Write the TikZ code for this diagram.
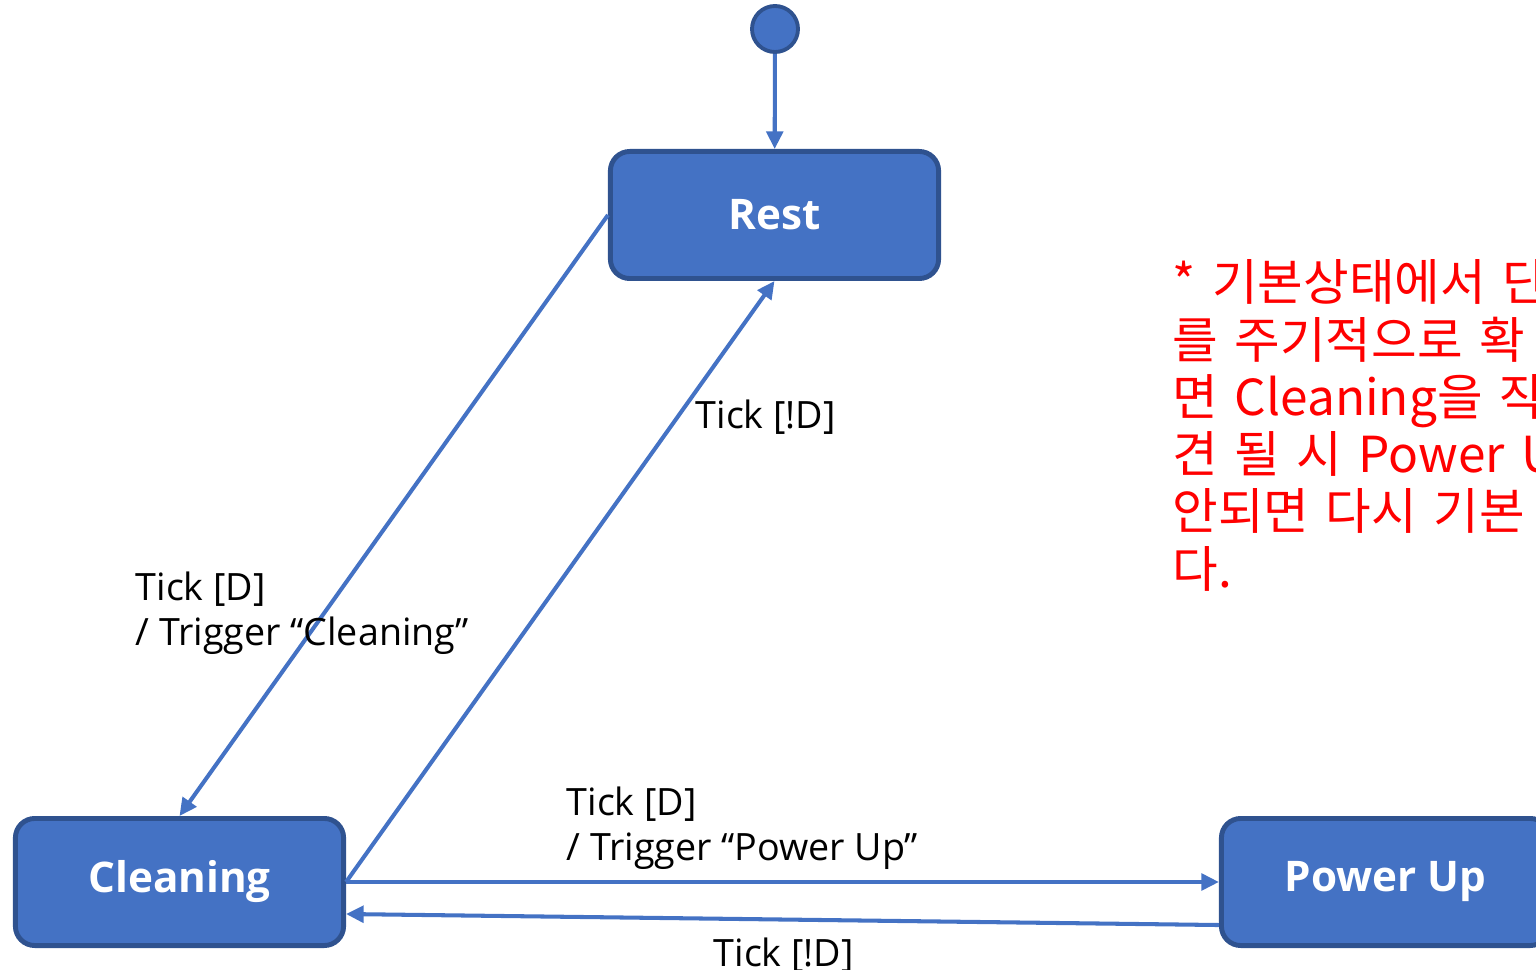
\documentclass[tikz,border=0pt]{standalone}
\usepackage{fontspec}
\setmainfont{Noto Sans CJK KR}
\newfontfamily\statefont{Open Sans}
\usetikzlibrary{arrows.meta}
\definecolor{stfill}{HTML}{4472C4}
\definecolor{stline}{HTML}{2F528F}
\definecolor{notered}{HTML}{FF0000}
\newcommand\memofont{\fontsize{14.1}{16.3}\selectfont\spaceskip=0.33em\relax}

\begin{document}
\begin{tikzpicture}[x=0.01cm, y=-0.01cm,
    stbox/.style={draw=stline, fill=stfill, line width=1.4pt, rounded corners=5.5pt,
      minimum width=3.28cm, minimum height=1.27cm, text=white,
      font=\statefont\bfseries\fontsize{12}{14}\selectfont},
    tr/.style={draw=stfill, line width=1.15pt, -{Triangle[length=5pt,width=4.7pt]}},
    lbl/.style={inner sep=0pt, align=left, font=\statefont\fontsize{10.7}{12.75}\selectfont}]
  \useasboundingbox (0,0) rectangle (1536,970);
  \node [draw=stline, fill=stfill, circle, line width=1.1pt, minimum size=0.46cm, inner sep=0pt] (init) at (775,29) {};
  \node [stbox] (rest) at (774.5,215) {Rest};
  \node [stbox] (clean) at (179.5,882) {Cleaning};
  \node [stbox] (power) at (1385.5,882) {Power Up};
  \draw [tr] (init) -- (rest);
  \draw [tr] (rest.west) -- (clean.north);
  \draw [tr] (clean.east) -- (rest.south);
  \draw [tr] (clean.east) -- (power.west);
  \draw [tr] ([yshift=-0.43cm]power.west) -- ([yshift=-0.32cm]clean.east);
  \node [lbl, anchor=north west] (l1) at (135,571) {Tick [D]\\/ Trigger “Cleaning”};
  \node [lbl, anchor=base west] (l2) at (695,428) {Tick [!D]};
  \node [lbl, anchor=north west] (l3) at (566,786) {Tick [D]\\/ Trigger “Power Up”};
  \node [lbl, anchor=base west] (l4) at (713,966) {Tick [!D]};
  % note on the right
  \node [anchor=north west, inner sep=0pt, align=left, text=notered, font=\memofont] (memo) at (1172,259)
    {* 기본상태에서 단\\를 주기적으로 확\\면 Cleaning을 작\\견 될 시 Power U\\안되면 다시 기본\\다.};
\end{tikzpicture}
\end{document}
